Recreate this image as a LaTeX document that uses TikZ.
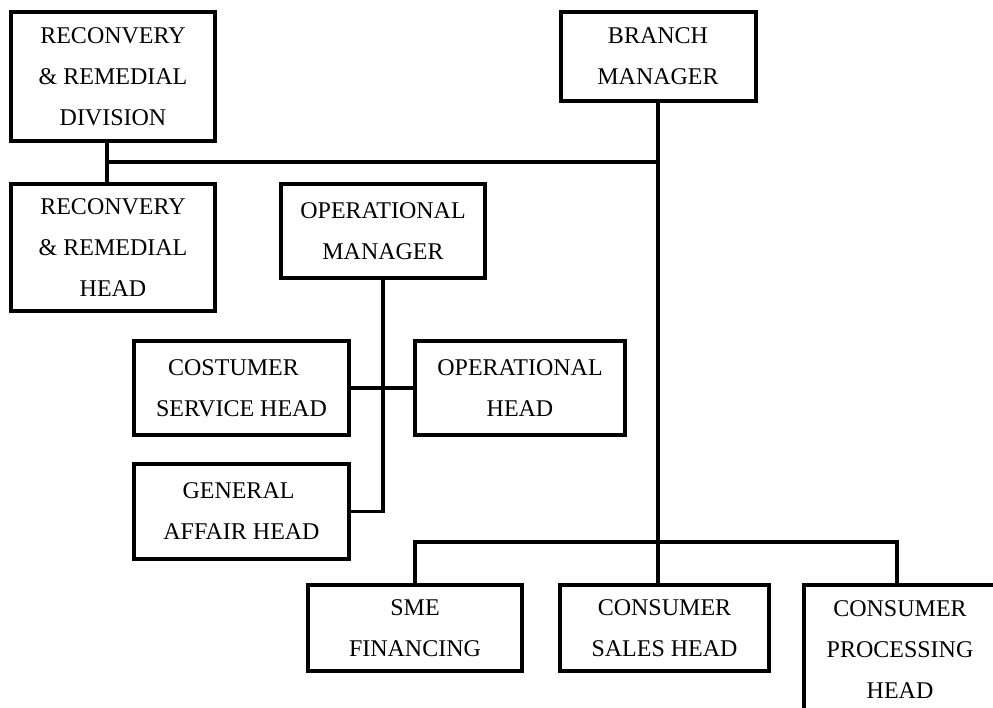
\documentclass[tikz,border=0pt]{standalone}
\usepackage{fontspec}
\setmainfont{Liberation Serif}
\usetikzlibrary{positioning}
\tikzset{
	box/.style={draw, line width=4pt, align=center, inner sep=0pt, font=\fontsize{24}{41}\selectfont}, % every post of the chart
	link/.style={line width=3.2pt}, % the lines that join the posts
}

\begin{document}
\begin{tikzpicture}[x=1pt, y=-1pt]
	\useasboundingbox (0,0) rectangle (993,708);
	\clip (0,0) rectangle (993,708);
	% top row
	\node[box, minimum width=204pt, minimum height=129pt] (recdiv) at (113,76.5) {RECONVERY\\ \& REMEDIAL\\ DIVISION};
	\node[box, minimum width=195pt, minimum height=89pt] (bm) at (658,56.5) {BRANCH\\ MANAGER};
	\node[box, minimum width=204pt, minimum height=127pt] (rechead) at (113,247.5) {RECONVERY\\ \& REMEDIAL\\ HEAD};
	% operations
	\node[box, minimum width=204pt, minimum height=94pt] (om) at (383,231) {OPERATIONAL\\ MANAGER};
	\node[box, minimum width=215pt, minimum height=94pt] (csh) at (241.5,388) {COSTUMER\hspace*{16pt}\\ SERVICE HEAD};
	\node[box, minimum width=210pt, minimum height=94pt] (oh) at (520,388) {OPERATIONAL\\ HEAD};
	\node[box, minimum width=215pt, minimum height=95pt] (gah) at (241.5,511.5) {GENERAL\hspace*{6pt}\\ AFFAIR HEAD};
	% consumer side
	\node[box, minimum width=214pt, minimum height=86pt] (sme) at (415,628) {SME\\ FINANCING};
	\node[box, minimum width=209pt, minimum height=86pt] (csales) at (664.5,628) {CONSUMER\\ SALES HEAD};
	\node[box, minimum width=192pt, minimum height=130pt, anchor=north west] (cproc) at (802,583) {CONSUMER\\ PROCESSING\\ HEAD};
	\coordinate (rj) at (107,162);
	\coordinate (top) at (658,162);
	\coordinate (bus) at (658,542);
	\draw[link] (recdiv.south -| rj) -- (rechead.north -| rj)
		(rj) -- (top)
		(bm.south) -- (bus)
		(bus) -- (bus |- csales.north)
		(sme.north) |- (bus) -| ([xshift=-3pt]cproc.north);
	\draw[link] (om.south) |- (gah.east)
		(csh.east) -- (oh.west);
\end{tikzpicture}
\end{document}
